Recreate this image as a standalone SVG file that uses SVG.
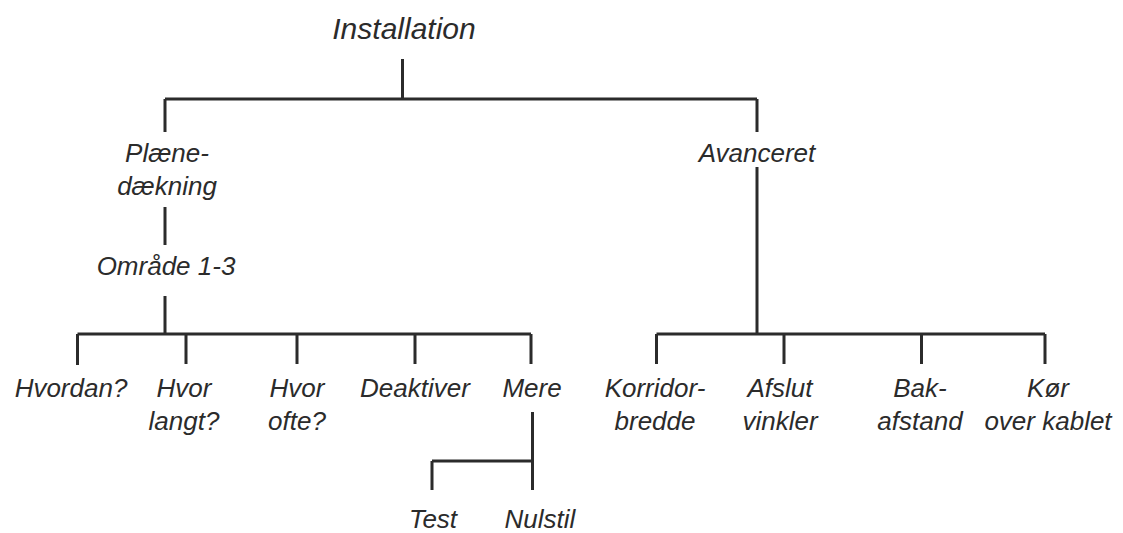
<svg xmlns="http://www.w3.org/2000/svg" width="1123" height="533" viewBox="0 0 1123 533">
<style>
text{font-family:"Liberation Sans",Arial,sans-serif;font-style:italic;font-size:26px;fill:#2b2b2b;text-anchor:middle}
.title{font-size:30px}
.c{stroke:#2b2b2b;stroke-width:3;fill:none;stroke-linecap:butt;stroke-linejoin:miter}
</style>
<rect width="1123" height="533" fill="#ffffff"/>
<g id="connectors" class="c">
<path d="M402.5 59V99M165 99H757M165 99V132M757 99V132"/>
<path d="M165 207V245"/>
<path d="M757 167V334"/>
<path d="M165 296V334M77.5 334H531M77.5 334V365M186 334V364M297 334V364M415 334V364M531 334V364"/>
<path d="M656.5 334H1045M656.5 334V364M784 334V364M921.5 334V364M1045 334V364"/>
<path d="M532.5 412V490M432 461H532.5M432 461V490"/>
</g>
<g id="installation"><text class="title" x="404" y="39">Installation</text></g>
<g id="plaenedaekning"><text x="167" y="162">Plæne-</text><text x="167" y="195">dækning</text></g>
<g id="avanceret"><text x="757" y="162">Avanceret</text></g>
<g id="omraade"><text x="166" y="275">Område 1-3</text></g>
<g id="hvordan"><text x="71" y="397">Hvordan?</text></g>
<g id="hvorlangt"><text x="184" y="397">Hvor</text><text x="184" y="430">langt?</text></g>
<g id="hvorofte"><text x="297" y="397">Hvor</text><text x="297" y="430">ofte?</text></g>
<g id="deaktiver"><text x="415" y="397">Deaktiver</text></g>
<g id="mere"><text x="532" y="397">Mere</text></g>
<g id="test"><text x="433" y="528">Test</text></g>
<g id="nulstil"><text x="540" y="528">Nulstil</text></g>
<g id="korridorbredde"><text x="655" y="397">Korridor-</text><text x="655" y="430">bredde</text></g>
<g id="afslutvinkler"><text x="780" y="397">Afslut</text><text x="780" y="430">vinkler</text></g>
<g id="bakafstand"><text x="920" y="397">Bak-</text><text x="920" y="430">afstand</text></g>
<g id="koerovekablet"><text x="1048" y="397">Kør</text><text x="1048" y="430">over kablet</text></g>
</svg>
